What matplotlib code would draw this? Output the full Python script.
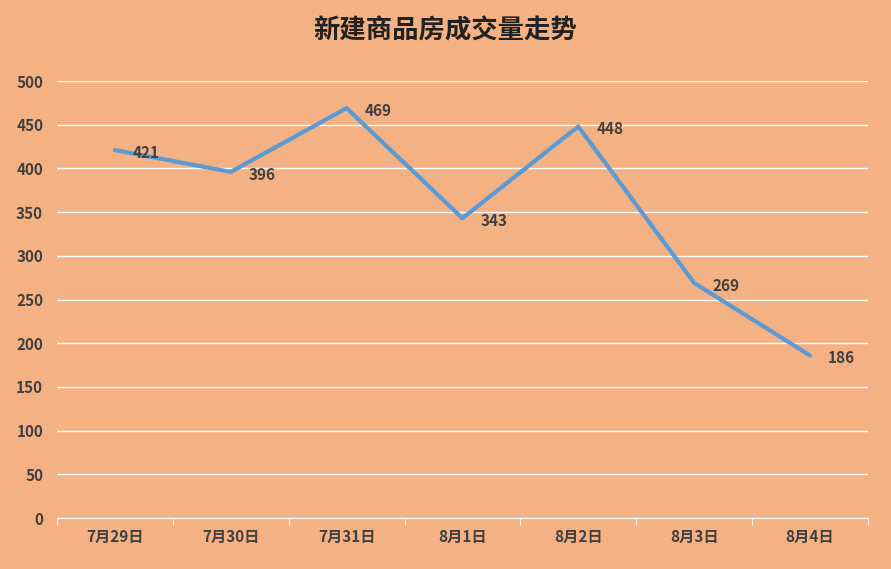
import matplotlib
matplotlib.use("Agg")
import matplotlib.pyplot as plt
import numpy as np

plt.rcParams['font.family'] = ['Noto Sans CJK SC', 'DejaVu Sans']

dates = ["7月29日", "7月30日", "7月31日", "8月1日", "8月2日", "8月3日", "8月4日"]
volumes = [421, 396, 469, 343, 448, 269, 186]

bg = "#F4B183"
fig = plt.figure(figsize=(8.91, 5.69), dpi=100, facecolor=bg)
ax = fig.add_axes([0.064, 0.0896, 0.91, 0.768], facecolor=bg)

x = np.arange(len(dates))
ax.plot(x, volumes, color="#5B9BD5", linewidth=3, solid_capstyle="round")
for xi, v in zip(x, volumes):
    ax.annotate(str(v), (xi, v), xytext=(13, -2), textcoords="offset points",
                ha="left", va="center", fontsize=11, fontweight="bold", color="#404040")

ax.set_xlim(-0.5, len(dates) - 0.5)
ax.set_ylim(0, 500)
ax.set_yticks(range(0, 501, 50))
ax.grid(axis="y", color="white", linewidth=1)
ax.set_axisbelow(True)
ax.set_xticks(x)
ax.set_xticklabels(dates, fontsize=11, fontweight="bold", color="#404040")
ax.set_xticks(np.arange(-0.5, len(dates)), minor=True)
ax.tick_params(axis="x", which="major", length=0, pad=8)
ax.tick_params(axis="x", which="minor", length=5, color="white")
ax.tick_params(axis="y", length=0, labelsize=11, labelcolor="#404040", pad=10)
for lbl in ax.get_yticklabels():
    lbl.set_fontweight("bold")
for s in ["top", "right", "left"]:
    ax.spines[s].set_visible(False)
ax.spines["bottom"].set_color("white")

fig.suptitle("新建商品房成交量走势", y=0.97, fontsize=19, fontweight="bold", color="#222222")
fig.savefig("out.png", dpi=100, facecolor=bg)
